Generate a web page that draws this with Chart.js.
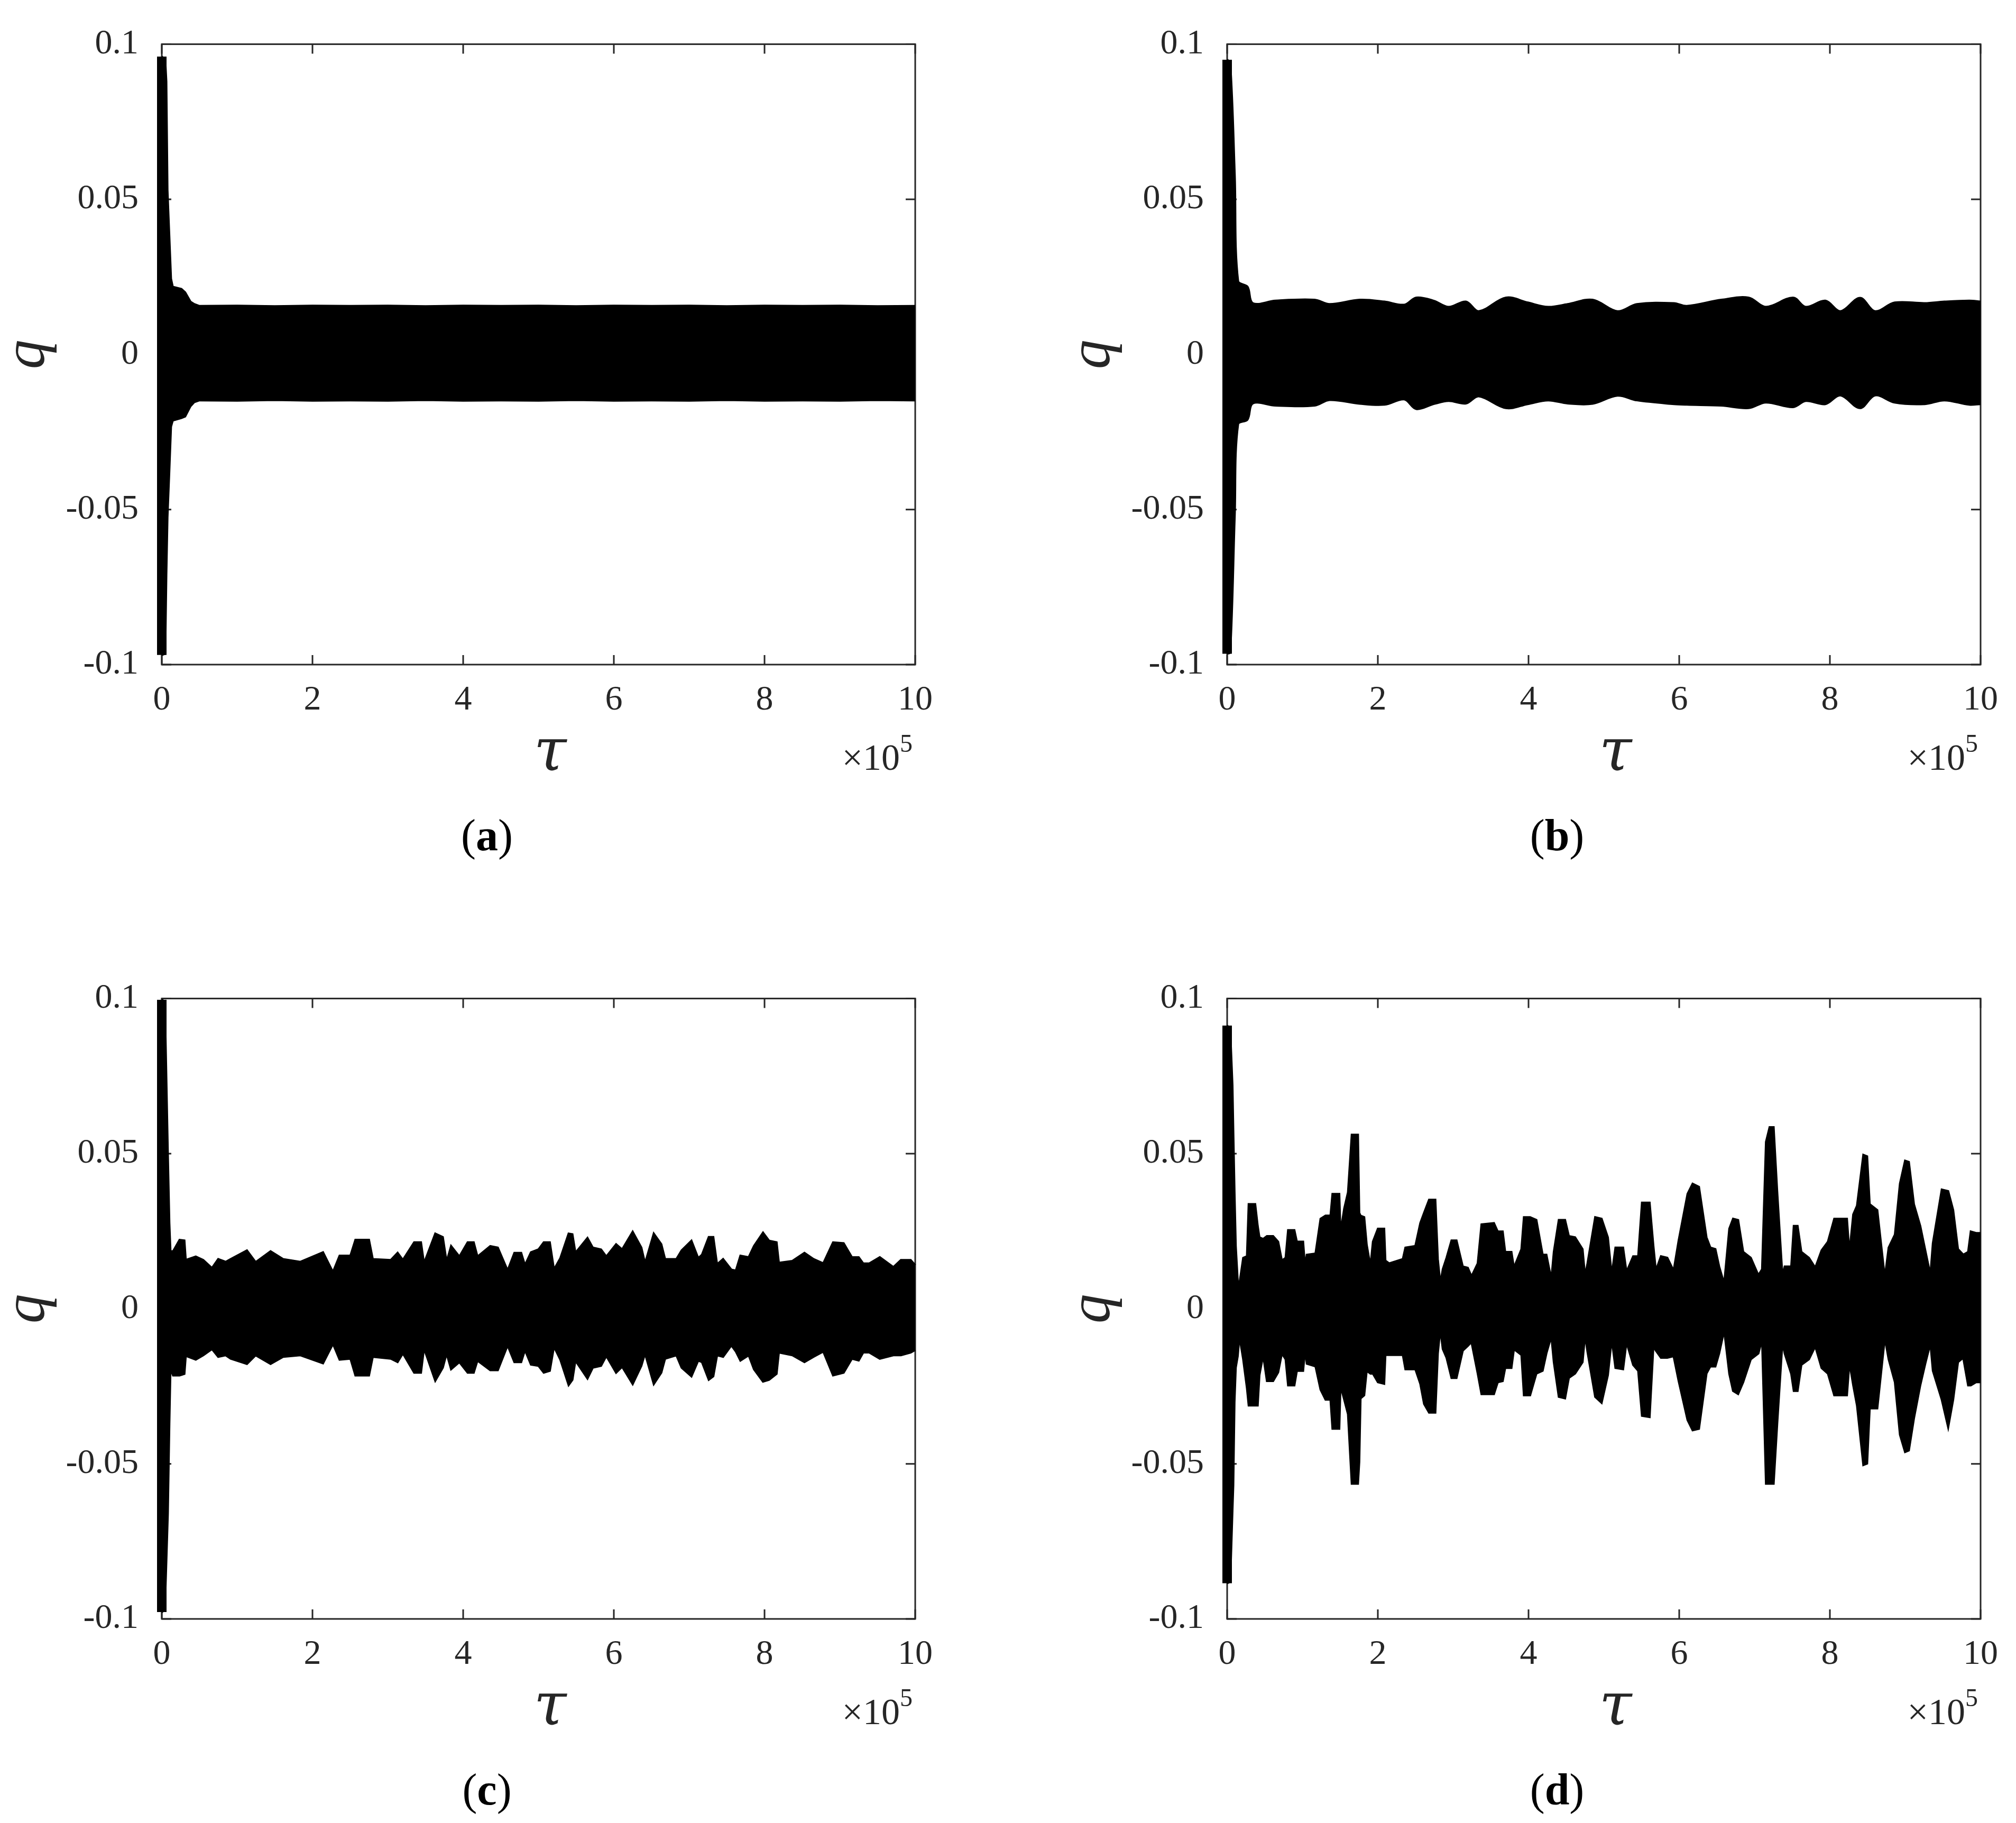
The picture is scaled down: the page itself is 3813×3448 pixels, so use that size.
<!DOCTYPE html>
<html>
<head>
<meta charset="utf-8">
<title>q vs tau</title>
<script src="https://cdn.jsdelivr.net/npm/chart.js@4.4.1/dist/chart.umd.min.js"></script>
<style>
  html, body { margin: 0; padding: 0; background: #fff; }
  body { width: 3813px; height: 3448px; position: relative; overflow: hidden; }
  .panel { position: absolute; width: 1798px; height: 1643px; }
</style>
</head>
<body>
<div class="panel" style="left:0px;top:0px"><canvas id="chartA" width="1798" height="1643"></canvas></div>
<div class="panel" style="left:2015px;top:0px"><canvas id="chartB" width="1798" height="1643"></canvas></div>
<div class="panel" style="left:0px;top:1805px"><canvas id="chartC" width="1798" height="1643"></canvas></div>
<div class="panel" style="left:2015px;top:1805px"><canvas id="chartD" width="1798" height="1643"></canvas></div>
<script>
// envelope of q(tau), tau in units of 1e5
const tauA = [0, 0.045, 0.06, 0.075, 0.098, 0.122, 0.145, 0.26, 0.31, 0.38,
  0.43, 0.5, 1.0, 1.5, 2.0, 2.5, 3.0, 3.5, 4.0, 4.5,
  5.0, 5.5, 6.0, 6.5, 7.0, 7.5, 8.0, 8.5, 9.0, 9.5, 10.0];
const upperA = [0.096, 0.095, 0.088, 0.053, 0.039, 0.0244, 0.0218, 0.0211, 0.0200, 0.0170,
  0.0162, 0.0156, 0.0157, 0.0155, 0.0157, 0.0156, 0.0157, 0.0155, 0.0157, 0.0156,
  0.0157, 0.0155, 0.0157, 0.0156, 0.0157, 0.0155, 0.0157, 0.0156, 0.0157, 0.0155, 0.0156];
const lowerA = [-0.0969, -0.0965, -0.071, -0.0525, -0.0385, -0.0233, -0.0213, -0.0205, -0.0200, -0.0167,
  -0.0154, -0.0148, -0.0149, -0.0147, -0.0149, -0.0148, -0.0149, -0.0147, -0.0149, -0.0148,
  -0.0149, -0.0147, -0.0149, -0.0148, -0.0149, -0.0147, -0.0149, -0.0148, -0.0149, -0.0147, -0.0148];

const tauB = [0, 0.04, 0.10, 0.145, 0.27, 0.34, 0.64, 1.16, 1.36, 1.76,
  2.09, 2.35, 2.51, 2.74, 2.94, 3.17, 3.34, 3.70, 3.99, 4.26,
  4.52, 4.85, 5.18, 5.44, 5.93, 6.10, 6.56, 6.92, 7.15, 7.51,
  7.68, 7.94, 8.14, 8.40, 8.60, 8.86, 9.26, 9.52, 9.85, 10.0];
const upperB = [0.095, 0.094, 0.058, 0.0236, 0.0218, 0.0165, 0.0173, 0.0176, 0.0162, 0.0176,
  0.0170, 0.0160, 0.0183, 0.0173, 0.0153, 0.0170, 0.0139, 0.0183, 0.0167, 0.0153,
  0.0162, 0.0176, 0.0139, 0.0162, 0.0165, 0.0156, 0.0176, 0.0183, 0.0153, 0.0183,
  0.0153, 0.0173, 0.0139, 0.0182, 0.0139, 0.0167, 0.0165, 0.0170, 0.0173, 0.0170];
const lowerB = [-0.0965, -0.096, -0.052, -0.0225, -0.021, -0.0158, -0.0165, -0.0165, -0.0147, -0.0159,
  -0.0162, -0.0145, -0.0176, -0.0160, -0.0150, -0.0158, -0.0135, -0.0173, -0.0160, -0.0148,
  -0.0158, -0.0159, -0.0133, -0.0148, -0.0160, -0.0162, -0.0165, -0.0173, -0.0155, -0.0170,
  -0.0150, -0.0160, -0.0132, -0.0173, -0.0132, -0.0155, -0.0160, -0.0148, -0.0162, -0.0160];

const tauC = [0, 0.04, 0.08, 0.10, 0.115, 0.15, 0.236, 0.30, 0.318, 0.451,
  0.55, 0.666, 0.749, 0.848, 0.914, 1.13, 1.245, 1.444, 1.61, 1.84,
  2.14, 2.272, 2.36, 2.504, 2.57, 2.75, 2.80, 3.04, 3.13, 3.20,
  3.35, 3.44, 3.48, 3.63, 3.73, 3.78, 3.84, 3.95, 4.06, 4.14,
  4.19, 4.36, 4.46, 4.59, 4.68, 4.77, 4.82, 4.90, 5.0, 5.07,
  5.15, 5.205, 5.29, 5.40, 5.45, 5.49, 5.65, 5.72, 5.83, 5.90,
  6.03, 6.11, 6.25, 6.365, 6.414, 6.53, 6.63, 6.68, 6.83, 6.90,
  7.03, 7.12, 7.17, 7.26, 7.32, 7.37, 7.45, 7.56, 7.62, 7.68,
  7.79, 7.86, 7.98, 8.06, 8.16, 8.19, 8.37, 8.53, 8.65, 8.78,
  8.91, 9.05, 9.16, 9.25, 9.31, 9.39, 9.53, 9.71, 9.81, 9.94, 10.0];
const upperC = [0.0996, 0.099, 0.050, 0.0276, 0.0185, 0.0185, 0.0222, 0.0220, 0.0157, 0.0168,
  0.0157, 0.0131, 0.0160, 0.0151, 0.0160, 0.0188, 0.0150, 0.0185, 0.0160, 0.0151,
  0.0182, 0.0118, 0.0171, 0.0171, 0.0222, 0.0222, 0.0160, 0.0157, 0.0180, 0.0157,
  0.0214, 0.0214, 0.0146, 0.0242, 0.0231, 0.0151, 0.0202, 0.0168, 0.0214, 0.0214,
  0.0168, 0.0202, 0.0197, 0.0123, 0.0180, 0.0180, 0.0140, 0.0182, 0.0191, 0.0214,
  0.0214, 0.0126, 0.0163, 0.0242, 0.0240, 0.0180, 0.0228, 0.0197, 0.0191, 0.0168,
  0.0208, 0.0191, 0.0248, 0.0197, 0.0146, 0.0242, 0.0208, 0.0160, 0.0160, 0.0188,
  0.0219, 0.0163, 0.0174, 0.0231, 0.0231, 0.0143, 0.0160, 0.0126, 0.0123, 0.0171,
  0.0166, 0.0202, 0.0245, 0.0219, 0.0214, 0.0148, 0.0154, 0.0180, 0.0160, 0.0146,
  0.0214, 0.0211, 0.0166, 0.0166, 0.0146, 0.0146, 0.0166, 0.0134, 0.0157, 0.0157, 0.0140];
const lowerC = [-0.0978, -0.097, -0.066, -0.037, -0.019, -0.0215, -0.0215, -0.0210, -0.0152, -0.0164,
  -0.0150, -0.0130, -0.0155, -0.0150, -0.0161, -0.0178, -0.0150, -0.0178, -0.0155, -0.0150,
  -0.0176, -0.0113, -0.0164, -0.0161, -0.0215, -0.0215, -0.0155, -0.0161, -0.0172, -0.0144,
  -0.0206, -0.0206, -0.0127, -0.0232, -0.0190, -0.0144, -0.0195, -0.0172, -0.0206, -0.0206,
  -0.0167, -0.0198, -0.0198, -0.0118, -0.0172, -0.0172, -0.0133, -0.0180, -0.0184, -0.0206,
  -0.0200, -0.0122, -0.0164, -0.0246, -0.0229, -0.0167, -0.0225, -0.0190, -0.0184, -0.0152,
  -0.0206, -0.0187, -0.0243, -0.0184, -0.0144, -0.0243, -0.0206, -0.0161, -0.0150, -0.0190,
  -0.0218, -0.0167, -0.0172, -0.0229, -0.0218, -0.0150, -0.0155, -0.0118, -0.0138, -0.0167,
  -0.0150, -0.0195, -0.0235, -0.0229, -0.0210, -0.0141, -0.0150, -0.0172, -0.0155, -0.0138,
  -0.0215, -0.0206, -0.0161, -0.0167, -0.0141, -0.0141, -0.0161, -0.0150, -0.0150, -0.0141, -0.0133];

const tauD = [0, 0.04, 0.07, 0.081, 0.097, 0.114, 0.14, 0.163, 0.213, 0.263,
  0.286, 0.372, 0.405, 0.428, 0.478, 0.528, 0.61, 0.677, 0.726, 0.776,
  0.809, 0.892, 0.925, 1.008, 1.034, 1.057, 1.173, 1.24, 1.306, 1.372,
  1.398, 1.488, 1.504, 1.554, 1.604, 1.654, 1.736, 1.753, 1.77, 1.819,
  1.852, 1.902, 1.935, 2.001, 2.084, 2.10, 2.15, 2.332, 2.366, 2.498,
  2.564, 2.614, 2.68, 2.763, 2.796, 2.829, 2.862, 2.912, 2.978, 3.044,
  3.127, 3.194, 3.243, 3.326, 3.376, 3.541, 3.591, 3.657, 3.69, 3.773,
  3.806, 3.906, 3.939, 4.021, 4.104, 4.187, 4.237, 4.303, 4.336, 4.402,
  4.485, 4.535, 4.618, 4.717, 4.75, 4.783, 4.885, 4.97, 5.053, 5.104,
  5.154, 5.255, 5.30, 5.389, 5.456, 5.506, 5.607, 5.657, 5.69, 5.758,
  5.842, 5.926, 5.993, 6.111, 6.178, 6.262, 6.362, 6.413, 6.48, 6.53,
  6.597, 6.665, 6.715, 6.782, 6.849, 6.95, 7.051, 7.10, 7.152, 7.20,
  7.253, 7.30, 7.37, 7.40, 7.487, 7.521, 7.571, 7.621, 7.722, 7.806,
  7.89, 7.974, 8.058, 8.226, 8.259, 8.31, 8.36, 8.444, 8.494, 8.528,
  8.629, 8.729, 8.78, 8.863, 8.93, 8.998, 9.048, 9.115, 9.199, 9.266,
  9.334, 9.367, 9.485, 9.57, 9.636, 9.70, 9.77, 9.835, 9.87, 9.94, 10.0];
const upperD = [0.0913, 0.090, 0.072, 0.0575, 0.0379, 0.0202, 0.0090, 0.0080, 0.0164, 0.0169,
  0.0337, 0.0337, 0.0267, 0.0230, 0.0225, 0.0234, 0.0234, 0.0216, 0.0155, 0.0164,
  0.0253, 0.0253, 0.0216, 0.0216, 0.0132, 0.0174, 0.0178, 0.0290, 0.0300, 0.0300,
  0.0370, 0.0370, 0.0244, 0.0323, 0.0375, 0.0561, 0.0561, 0.0309, 0.0300, 0.0295,
  0.0206, 0.0136, 0.0216, 0.0258, 0.0258, 0.0155, 0.0146, 0.0160, 0.0197, 0.0202,
  0.0276, 0.0309, 0.0351, 0.0351, 0.0160, 0.0080, 0.0127, 0.0164, 0.0220, 0.0220,
  0.0136, 0.0132, 0.0104, 0.0146, 0.0272, 0.0276, 0.0249, 0.0249, 0.0183, 0.0183,
  0.0132, 0.0192, 0.0295, 0.0295, 0.0286, 0.0174, 0.0174, 0.0094, 0.0183, 0.0286,
  0.0286, 0.0234, 0.0230, 0.0192, 0.0104, 0.0146, 0.0295, 0.0290, 0.0230, 0.0108,
  0.0197, 0.0197, 0.0118, 0.0169, 0.0169, 0.0342, 0.0342, 0.0202, 0.0122, 0.0169,
  0.0164, 0.0122, 0.0220, 0.0370, 0.0403, 0.0393, 0.0230, 0.0197, 0.0192, 0.0136,
  0.0080, 0.0258, 0.0290, 0.0286, 0.0183, 0.0164, 0.0108, 0.0127, 0.0538, 0.0585,
  0.0585, 0.0379, 0.0104, 0.0136, 0.0136, 0.0267, 0.0267, 0.0183, 0.0164, 0.0132,
  0.0188, 0.0216, 0.0290, 0.0290, 0.0178, 0.0304, 0.0332, 0.0496, 0.0491, 0.0337,
  0.0318, 0.0099, 0.0197, 0.0239, 0.0403, 0.0477, 0.0473, 0.0337, 0.0267, 0.0188,
  0.0108, 0.0211, 0.0384, 0.0379, 0.0318, 0.0192, 0.0174, 0.0183, 0.0249, 0.0244, 0.0244];
const lowerD = [-0.0885, -0.088, -0.065, -0.057, -0.030, -0.019, -0.0153, -0.0088, -0.0163, -0.0256,
  -0.0312, -0.0312, -0.0312, -0.0214, -0.0149, -0.0233, -0.0233, -0.0205, -0.0144, -0.0163,
  -0.0247, -0.0247, -0.0200, -0.0200, -0.0130, -0.0177, -0.0186, -0.0261, -0.0293, -0.0293,
  -0.0387, -0.0387, -0.0247, -0.0293, -0.0340, -0.0564, -0.0564, -0.0494, -0.0289, -0.0279,
  -0.0200, -0.0209, -0.0209, -0.0237, -0.0242, -0.0149, -0.0149, -0.0149, -0.0195, -0.0195,
  -0.0242, -0.0307, -0.0335, -0.0335, -0.0144, -0.0064, -0.0130, -0.0158, -0.0223, -0.0223,
  -0.0135, -0.0120, -0.0107, -0.0209, -0.0275, -0.0275, -0.0237, -0.0233, -0.0191, -0.0191,
  -0.0130, -0.0149, -0.0279, -0.0279, -0.0209, -0.0200, -0.0144, -0.0088, -0.0172, -0.0284,
  -0.0289, -0.0223, -0.0209, -0.0172, -0.0083, -0.0139, -0.0284, -0.0303, -0.0214, -0.0097,
  -0.0191, -0.0195, -0.0107, -0.0181, -0.0200, -0.0345, -0.0349, -0.0121, -0.0135, -0.0158,
  -0.0158, -0.0153, -0.0233, -0.0359, -0.0392, -0.0387, -0.0209, -0.0186, -0.0186, -0.0144,
  -0.0069, -0.0210, -0.0265, -0.0275, -0.0237, -0.0163, -0.0144, -0.0097, -0.0564, -0.0564,
  -0.0564, -0.0373, -0.0107, -0.0144, -0.0210, -0.0265, -0.0265, -0.0181, -0.0163, -0.0121,
  -0.0191, -0.0209, -0.0279, -0.0279, -0.0172, -0.0247, -0.0312, -0.0504, -0.0499, -0.0321,
  -0.0321, -0.0093, -0.0163, -0.0237, -0.0406, -0.0462, -0.0457, -0.0354, -0.0247, -0.0177,
  -0.0111, -0.0200, -0.0293, -0.0382, -0.0293, -0.0172, -0.0158, -0.0247, -0.0247, -0.0237, -0.0237];

const xTicks = [0, 2, 4, 6, 8, 10];
const yTicks = [-0.1, -0.05, 0, 0.05, 0.1];
const panelLabels = ['a', 'b', 'c', 'd'];

const AXIS = '#262626';
const SERIF = "'Liberation Serif', 'Times New Roman', serif";
const TICK_FONT = 66;

function toPoints(tau, vals) {
  return tau.map((t, i) => ({ x: t, y: vals[i] }));
}

// box round the axes, inward ticks on all four sides, tau, x10^5 and (a) label
const framePlugin = {
  id: 'frame',
  beforeDatasetsDraw(chart) {
    const { ctx, chartArea: a, scales } = chart;
    ctx.save();
    ctx.strokeStyle = AXIS;
    ctx.lineWidth = 3;
    ctx.strokeRect(a.left, a.top, a.right - a.left, a.bottom - a.top);
    ctx.beginPath();
    scales.x.ticks.forEach(t => {
      const px = scales.x.getPixelForValue(t.value);
      ctx.moveTo(px, a.bottom); ctx.lineTo(px, a.bottom - 18);
      ctx.moveTo(px, a.top); ctx.lineTo(px, a.top + 18);
    });
    scales.y.ticks.forEach(t => {
      const py = scales.y.getPixelForValue(t.value);
      ctx.moveTo(a.left, py); ctx.lineTo(a.left + 18, py);
      ctx.moveTo(a.right, py); ctx.lineTo(a.right - 18, py);
    });
    ctx.stroke();
    ctx.restore();
  },
  afterDraw(chart, args, opts) {
    const { ctx, chartArea: a } = chart;
    ctx.save();
    ctx.fillStyle = AXIS;
    ctx.textBaseline = 'alphabetic';

    // axis label tau
    ctx.textAlign = 'center';
    ctx.font = `italic 112px 'DejaVu Serif', serif`;
    ctx.fillText('\u03c4', (a.left + a.right) / 2 + 22, a.bottom + 200);

    // exponent of the tau axis
    ctx.textAlign = 'right';
    ctx.font = `48px ${SERIF}`;
    ctx.fillText('5', a.right - 5, a.bottom + 165);
    const w5 = ctx.measureText('5').width;
    ctx.font = `70px ${SERIF}`;
    ctx.fillText('\u00d710', a.right - 5 - w5, a.bottom + 199);

    // panel label: "(" + bold letter + ")"
    ctx.fillStyle = '#000';
    ctx.textAlign = 'left';
    const parts = [['(', ''], [opts.label, 'bold '], [')', '']];
    const size = 84;
    let total = 0;
    parts.forEach(p => { ctx.font = `${p[1]}${size}px ${SERIF}`; total += ctx.measureText(p[0]).width; });
    let x = opts.labelX - total / 2;
    parts.forEach(p => {
      ctx.font = `${p[1]}${size}px ${SERIF}`;
      ctx.fillText(p[0], x, 1608);
      x += ctx.measureText(p[0]).width;
    });
    ctx.restore();
  }
};

function makePanel(id, tau, upper, lower, label, labelX, tension) {
  const black = '#000';
  new Chart(document.getElementById(id), {
    type: 'line',
    data: {
      datasets: [
        { data: toPoints(tau, upper), borderColor: black, backgroundColor: black, borderWidth: 4,
          fill: '+1', pointRadius: 0, tension: tension, clip: false },
        { data: toPoints(tau, lower), borderColor: black, backgroundColor: black, borderWidth: 4,
          fill: false, pointRadius: 0, tension: tension, clip: false },
        // the first swing at tau = 0, drawn as a thick stroke
        { data: [{ x: tau[0], y: upper[0] }, { x: tau[0], y: lower[0] }], borderColor: black,
          borderWidth: 18, borderCapStyle: 'butt', fill: false, pointRadius: 0, clip: false }
      ]
    },
    options: {
      responsive: false,
      animation: false,
      devicePixelRatio: 1,
      events: [],
      layout: { padding: { left: 0, top: 83, right: 67, bottom: 186 } },
      plugins: {
        legend: { display: false },
        tooltip: { enabled: false },
        frame: { label: label, labelX: labelX }
      },
      scales: {
        x: {
          type: 'linear',
          min: 0, max: 10,
          grid: { display: false, drawTicks: false },
          border: { display: false },
          afterBuildTicks: s => { s.ticks = xTicks.map(v => ({ value: v })); },
          afterFit: s => { s.height = 200; },
          ticks: { color: AXIS, padding: 28, maxRotation: 0, font: { family: SERIF, size: TICK_FONT } }
        },
        y: {
          type: 'linear',
          min: -0.1, max: 0.1,
          grid: { display: false, drawTicks: false },
          border: { display: false },
          afterBuildTicks: s => { s.ticks = yTicks.map(v => ({ value: v })); },
          afterFit: s => { s.width = 306; },
          ticks: { color: AXIS, padding: 44, font: { family: SERIF, size: TICK_FONT },
            callback: v => String(+v.toFixed(2)) },
          title: { display: true, text: 'q', color: AXIS, padding: { top: -2, bottom: 0 },
            font: { family: SERIF, style: 'italic', size: 112, lineHeight: 1 } }
        }
      }
    },
    plugins: [framePlugin]
  });
}

makePanel('chartA', tauA, upperA, lowerA, panelLabels[0], 921, 0);
makePanel('chartB', tauB, upperB, lowerB, panelLabels[1], 930, 0.35);
makePanel('chartC', tauC, upperC, lowerC, panelLabels[2], 921, 0);
makePanel('chartD', tauD, upperD, lowerD, panelLabels[3], 930, 0);
</script>
</body>
</html>
